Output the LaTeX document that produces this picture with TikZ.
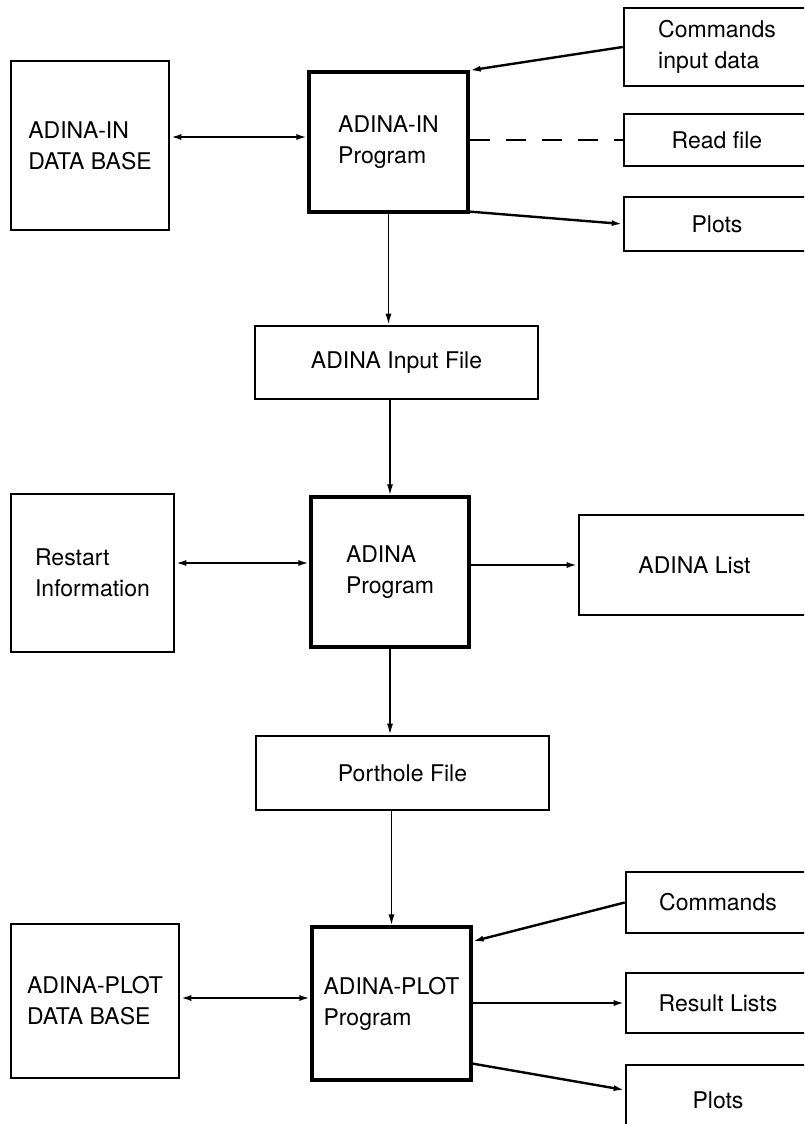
\documentclass[tikz,border=0pt]{standalone}
\usepackage{fontspec}
\setmainfont{TeX Gyre Heros}
\usetikzlibrary{arrows.meta}

\begin{document}
\begin{tikzpicture}[x=1pt, y=-1pt,
    box/.style={draw, line width=2.6pt, align=left, inner sep=0pt,
        font=\fontsize{23}{31}\selectfont},
    prog/.style={box, line width=3.2pt},
    tip/.style={-{Latex[length=11pt,width=6pt]}, line width=2.4pt},
    twotip/.style={{Latex[length=11pt,width=6pt]}-{Latex[length=11pt,width=6pt]}, line width=2.4pt},
    down/.style={-{Latex[length=11pt,width=6pt]}, line width=1.6pt}]

    % Page size, the boxes on the right run off the edge
    \clip (0,0) rectangle (804,1124);

    % Top row: ADINA-IN
    \node[box, minimum width=158pt, minimum height=169pt] (indb) at (90,145.5) {ADINA-IN\\DATA BASE};
    \node[prog, minimum width=159pt, minimum height=140pt] (inprog) at (388.5,142) {ADINA-IN\\Program};
    \node[box, minimum width=186pt, minimum height=78pt] (cmdin) at (717,47) {Commands\\input data};
    \node[box, minimum width=186pt, minimum height=52pt] (readf) at (717,140) {Read file};
    \node[box, minimum width=186pt, minimum height=54pt] (plotsin) at (717,224) {Plots};

    % Input file
    \node[box, minimum width=283pt, minimum height=73pt] (infile) at (396.5,362.5) {ADINA Input File};

    % Middle row: ADINA
    \node[box, minimum width=163pt, minimum height=158pt] (restart) at (92.5,573) {Restart\\Information};
    \node[prog, minimum width=158pt, minimum height=150pt] (adina) at (390,572) {ADINA\\Program};
    \node[box, minimum width=231pt, minimum height=100pt] (alist) at (694.5,565) {ADINA List};

    % Porthole file
    \node[box, minimum width=293pt, minimum height=74pt] (porthole) at (402.5,773) {Porthole File};

    % Bottom row: ADINA-PLOT
    \node[box, minimum width=168pt, minimum height=154pt] (plotdb) at (95,1001) {ADINA-PLOT\\DATA BASE};
    \node[prog, minimum width=159pt, minimum height=153pt] (plotprog) at (391.5,1003.5) {ADINA-PLOT\\Program};
    \node[box, minimum width=184pt, minimum height=61pt] (cmds) at (718,902.5) {Commands};
    \node[box, minimum width=184pt, minimum height=60pt] (reslist) at (718,1003) {Result Lists};
    \node[box, minimum width=184pt, minimum height=70pt] (plotsout) at (718,1100) {Plots};

    % Links of ADINA-IN
    \draw[twotip] ([yshift=8.5pt]indb.east) -- ([yshift=8.5pt]indb.east -| inprog.west);
    \draw[tip] (cmdin.west) -- (inprog.north east);
    \draw[line width=2.4pt, dash pattern=on 20pt off 16pt] (readf.west -| inprog.east) -- (readf.west);
    \draw[tip] ([yshift=2pt]inprog.south east) -- (plotsin.west);

    % Down the middle
    \draw[down] (inprog.south) -- (inprog.south |- infile.north);
    \draw[down] (adina.north |- infile.south) -- (adina.north);
    \draw[down] (adina.south) -- (adina.south |- porthole.north);
    \draw[down] (plotprog.north |- porthole.south) -- (plotprog.north);

    % Links of ADINA
    \draw[twotip] ([yshift=10pt]restart.east) -- ([yshift=10pt]restart.east -| adina.west);
    \draw[tip] (alist.west -| adina.east) -- (alist.west);

    % Links of ADINA-PLOT
    \draw[twotip] ([yshift=3pt]plotdb.east) -- ([yshift=3pt]plotdb.east -| plotprog.west);
    \draw[tip] (cmds.west) -- ([yshift=-16pt]plotprog.north east);
    \draw[tip] (reslist.west -| plotprog.east) -- (reslist.west);
    \draw[tip] ([yshift=18pt]plotprog.south east) -- ([yshift=10pt]plotsout.west);

\end{tikzpicture}
\end{document}
